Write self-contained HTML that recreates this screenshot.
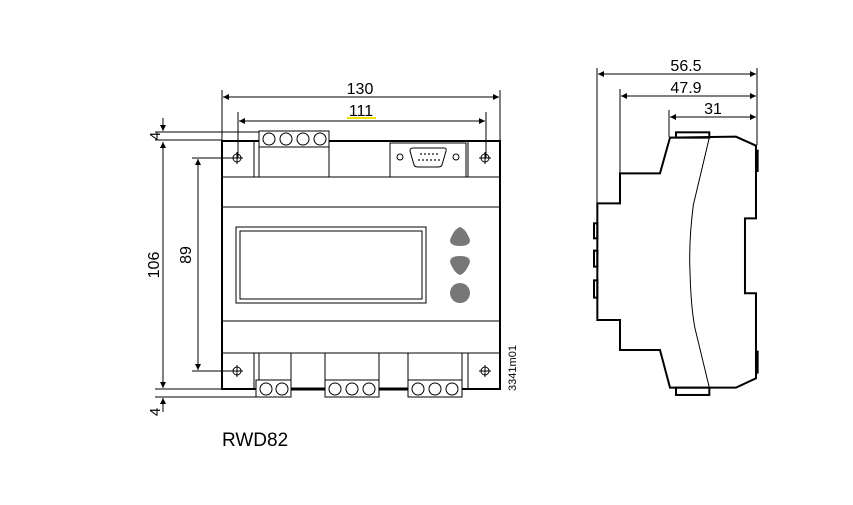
<!DOCTYPE html>
<html><head><style>
body{margin:0;background:#fff;width:853px;height:505px;overflow:hidden}
svg{display:block}
text{font-family:"Liberation Sans",Arial,sans-serif;fill:#000}
</style></head><body>
<svg width="853" height="505" viewBox="0 0 853 505" xmlns="http://www.w3.org/2000/svg">
<defs>
<marker id="a" viewBox="0 0 10 10" refX="10" refY="5" markerWidth="10" markerHeight="6" orient="auto-start-reverse" markerUnits="userSpaceOnUse"><path d="M0,0L10,5L0,10z" fill="#000"/></marker>
</defs>
<g stroke="#000" fill="none" stroke-width="1">
<line x1="222" y1="90" x2="222" y2="141"/><line x1="500" y1="90" x2="500" y2="141"/>
<line x1="223" y1="97" x2="499" y2="97" marker-start="url(#a)" marker-end="url(#a)"/>
<line x1="238" y1="112" x2="238" y2="158"/><line x1="486" y1="112" x2="486" y2="158"/>
<line x1="239" y1="121" x2="485" y2="121" marker-start="url(#a)" marker-end="url(#a)"/>
<line x1="155" y1="132" x2="260" y2="132"/><line x1="155" y1="140" x2="222" y2="140"/>
<line x1="155" y1="389" x2="222" y2="389"/><line x1="155" y1="397" x2="256" y2="397"/>
<line x1="163" y1="142" x2="163" y2="388" marker-start="url(#a)" marker-end="url(#a)"/>
<line x1="163" y1="118" x2="163" y2="131" marker-end="url(#a)"/>
<line x1="163" y1="412" x2="163" y2="398" marker-end="url(#a)"/>
<line x1="192" y1="158" x2="237" y2="158"/><line x1="192" y1="371" x2="237" y2="371"/>
<line x1="198" y1="159" x2="198" y2="370" marker-start="url(#a)" marker-end="url(#a)"/>
<rect x="222" y="141" width="278" height="248" stroke-width="2"/>
<line x1="222" y1="177" x2="500" y2="177"/>
<line x1="222" y1="207" x2="500" y2="207"/>
<line x1="222" y1="321" x2="500" y2="321"/>
<line x1="222" y1="353" x2="500" y2="353"/>
<line x1="254" y1="141" x2="254" y2="177"/>
<polyline points="259,147 259,177"/><polyline points="329,147 329,177"/>
<rect x="259" y="131" width="70" height="16" fill="#fff"/>
<circle cx="269" cy="139" r="6"/><circle cx="286" cy="139" r="6"/><circle cx="303" cy="139" r="6"/><circle cx="320" cy="139" r="6"/>
<rect x="390" y="143" width="76" height="34"/>
<line x1="468" y1="141" x2="468" y2="177"/>
<circle cx="400" cy="157" r="3"/><circle cx="456" cy="157" r="3"/>
<path d="M413,148 H444 Q447,148 446,151 L442,165 Q441,167 438,167 H418 Q415,167 414,165 L410,151 Q410,148 413,148Z"/>
<g fill="#000" stroke="none">
<circle cx="421" cy="154" r="0.9"/><circle cx="425" cy="154" r="0.9"/><circle cx="429" cy="154" r="0.9"/><circle cx="433" cy="154" r="0.9"/><circle cx="437" cy="154" r="0.9"/>
<circle cx="419" cy="160" r="0.9"/><circle cx="423" cy="160" r="0.9"/><circle cx="427" cy="160" r="0.9"/><circle cx="431" cy="160" r="0.9"/><circle cx="435" cy="160" r="0.9"/><circle cx="439" cy="160" r="0.9"/>
</g>
<g>
<circle cx="237" cy="158" r="4"/><line x1="231" y1="158" x2="243" y2="158"/><line x1="237" y1="152" x2="237" y2="164"/>
<circle cx="485" cy="158" r="4"/><line x1="479" y1="158" x2="491" y2="158"/><line x1="485" y1="152" x2="485" y2="164"/>
<circle cx="237" cy="371" r="4"/><line x1="231" y1="371" x2="243" y2="371"/><line x1="237" y1="365" x2="237" y2="377"/>
<circle cx="485" cy="371" r="4"/><line x1="479" y1="371" x2="491" y2="371"/><line x1="485" y1="365" x2="485" y2="377"/>
</g>
<rect x="236" y="227" width="190" height="76"/>
<rect x="240" y="231" width="182" height="68"/>
<line x1="254" y1="353" x2="254" y2="389"/><line x1="259" y1="353" x2="259" y2="380"/>
<line x1="291" y1="353" x2="291" y2="380"/><line x1="325" y1="353" x2="325" y2="380"/>
<line x1="379" y1="353" x2="379" y2="380"/><line x1="408" y1="353" x2="408" y2="380"/>
<line x1="462" y1="353" x2="462" y2="380"/><line x1="468" y1="353" x2="468" y2="389"/>
<line x1="256" y1="389" x2="462" y2="389" stroke-width="3"/>
<rect x="256" y="380" width="35" height="17" fill="#fff"/>
<rect x="325" y="380" width="54" height="17" fill="#fff"/>
<rect x="408" y="380" width="54" height="17" fill="#fff"/>
<circle cx="266" cy="389" r="6"/><circle cx="282" cy="389" r="6"/>
<circle cx="335" cy="389" r="6"/><circle cx="352" cy="389" r="6"/><circle cx="369" cy="389" r="6"/>
<circle cx="418" cy="389" r="6"/><circle cx="435" cy="389" r="6"/><circle cx="452" cy="389" r="6"/>
</g>
<g fill="#777">
<path d="M460,227 Q466,229 470,240 Q470,246 460,246 Q450,246 450,240 Q454,229 460,227Z"/>
<path d="M460,275 Q466,273 470,262 Q470,256 460,256 Q450,256 450,262 Q454,273 460,275Z"/>
<circle cx="460" cy="293" r="10"/>
</g>
<line x1="347" y1="118" x2="376" y2="118" stroke="#f0e000" stroke-width="2"/>
<text x="360" y="94" font-size="16" text-anchor="middle">130</text>
<text x="361" y="116" font-size="16" text-anchor="middle">111</text>
<text transform="translate(159,265) rotate(-90)" font-size="16" text-anchor="middle">106</text>
<text transform="translate(191,255) rotate(-90)" font-size="16" text-anchor="middle">89</text>
<text transform="translate(160,136) rotate(-90)" font-size="15" text-anchor="middle">4</text>
<text transform="translate(160,412) rotate(-90)" font-size="15" text-anchor="middle">4</text>
<text transform="translate(516,368) rotate(-90)" font-size="11" text-anchor="middle">3341m01</text>
<text x="222" y="446" font-size="19">RWD82</text>
<g stroke="#000" fill="none" stroke-width="1">
<line x1="597" y1="68" x2="597" y2="203"/>
<line x1="620" y1="89" x2="620" y2="173"/>
<line x1="669" y1="110" x2="669" y2="137"/>
<line x1="757" y1="68" x2="757" y2="145"/>
<line x1="598" y1="74" x2="756" y2="74" marker-start="url(#a)" marker-end="url(#a)"/>
<line x1="621" y1="96" x2="756" y2="96" marker-start="url(#a)" marker-end="url(#a)"/>
<line x1="670" y1="117" x2="756" y2="117" marker-start="url(#a)" marker-end="url(#a)"/>
</g>
<g transform="translate(580,55) scale(0.3333)" stroke="#000" fill="none">
<path d="M270,248 L468,245 L528,272 L528,490 L495,490 L495,715 L528,715 L528,970 L468,998 L270,998 L240,885 L120,885 L120,795 L52,795 L52,445 L120,445 L120,355 L240,355 Z" stroke-width="6"/>
<rect x="288" y="232" width="100" height="16" stroke-width="6"/>
<rect x="288" y="998" width="100" height="22" stroke-width="6"/>
<path d="M388,248 L340,450 Q326,560 330,650 Q333,760 345,820 L388,998" stroke-width="3"/>
<rect x="42" y="505" width="10" height="45" stroke-width="6"/>
<rect x="42" y="587" width="10" height="48" stroke-width="6"/>
<rect x="42" y="676" width="10" height="52" stroke-width="6"/>
<rect x="528" y="285" width="7" height="65" fill="#000" stroke-width="2"/>
<rect x="528" y="888" width="7" height="67" fill="#000" stroke-width="2"/>
</g>
<text x="686" y="71" font-size="16" text-anchor="middle">56.5</text>
<text x="686" y="93" font-size="16" text-anchor="middle">47.9</text>
<text x="713" y="114" font-size="16" text-anchor="middle">31</text>
</svg>
</body></html>
